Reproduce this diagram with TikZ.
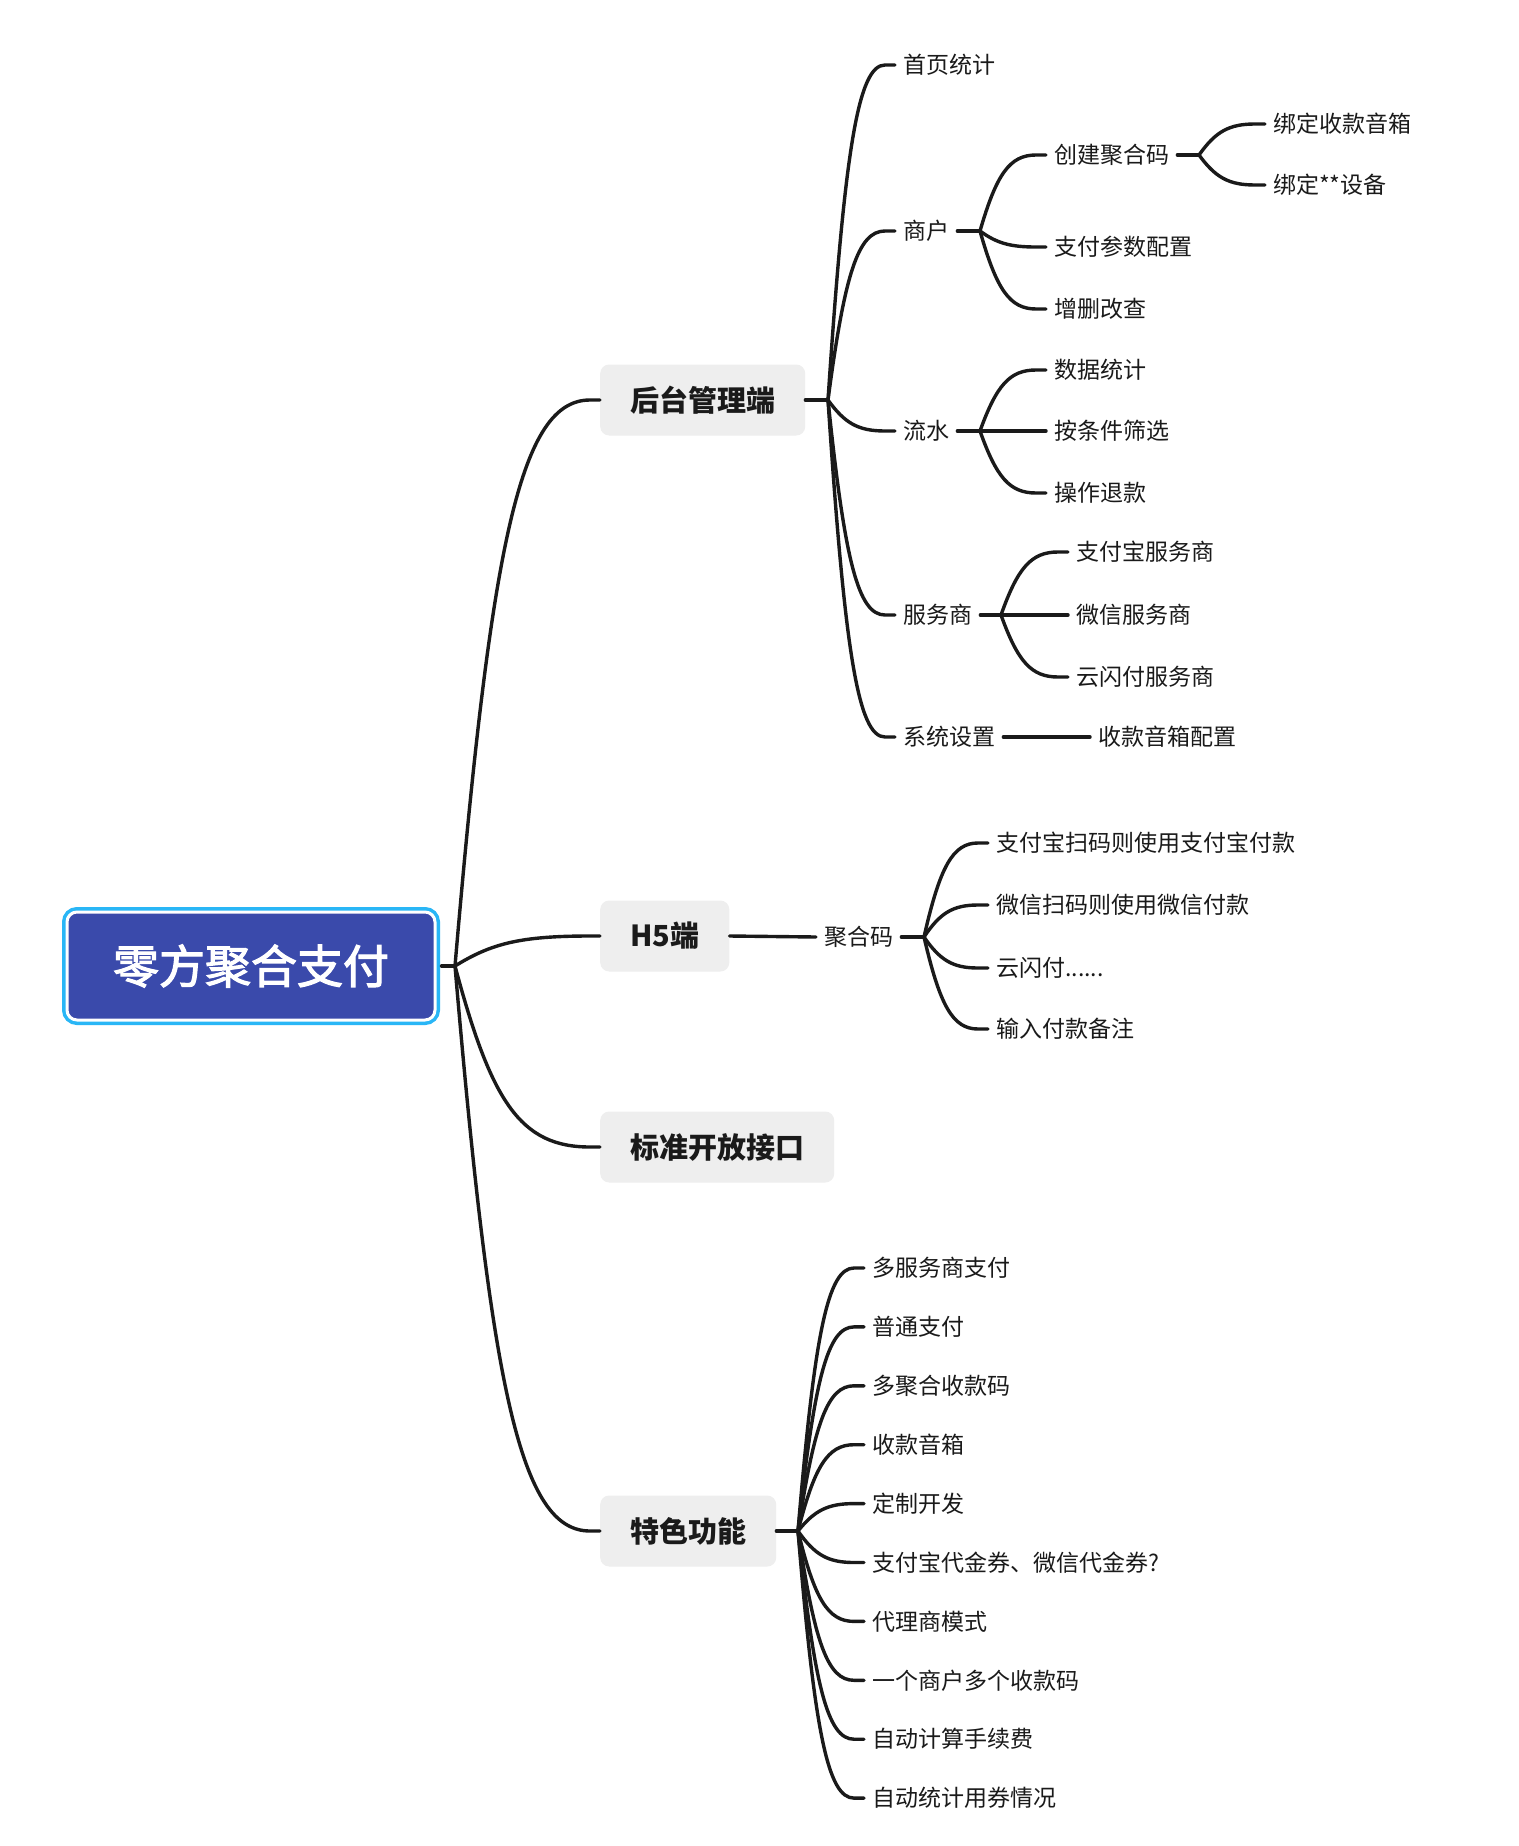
\documentclass[tikz,border=0pt]{standalone}
\usepackage{fontspec}
\newfontfamily\cjk{Noto Sans CJK SC}
\newfontfamily\cjkroot[FakeBold=2.5]{Noto Sans CJK SC}
\usetikzlibrary{calc}
\definecolor{rootblue}{HTML}{3A4AAB}
\definecolor{rootcyan}{HTML}{29B6F6}
\definecolor{boxgray}{HTML}{EEEEEE}
\definecolor{inkline}{HTML}{1A1A1A}
\newcommand\branch[2]{\draw[link] let \p1=(#1), \p2=(#2.west) in (\p1) .. controls ({\x1+0.25*(\x2-\x1)},{\y1+0.75*(\y2-\y1)}) and ({\x1+0.45*(\x2-\x1)},\y2) .. ({\x2-10pt},\y2) -- (\p2);}
\begin{document}
\begin{tikzpicture}[x=1pt,y=-1pt,
  link/.style={draw=inkline,line width=3.4,line cap=round},
  rootbox/.style={fill=rootblue,draw=white,line width=3,rounded corners=10,minimum width=368,minimum height=108,text=white,font=\cjkroot\fontsize{46}{46}\selectfont,preaction={draw=rootcyan,line width=10}},
  topic/.style={anchor=west,fill=boxgray,rounded corners=9,minimum height=71,inner xsep=30,text=inkline,font=\cjk\bfseries\fontsize{29}{29}\selectfont},
  leaf/.style={anchor=west,inner xsep=8,inner ysep=2,text=inkline,font=\cjk\fontsize{23}{23}\selectfont}]
\useasboundingbox[fill=white] (0,0) rectangle (1518,1846);

% root
\node[rootbox] (root) at (251,966) {零方聚合支付};
\coordinate (rootfan) at (455,966);
\draw[link] ([xshift=5]root.east) -- (rootfan);

\node[topic] (admin) at (600,400) {后台管理端};
\node[topic] (hfive) at (600,936) {H5端};
\node[topic] (api) at (600,1147) {标准开放接口};
\node[topic] (feature) at (600,1531) {特色功能};
\foreach \t in {admin,hfive,api,feature} \branch{rootfan}{\t};

% 后台管理端
\coordinate (adminfan) at (828,400);
\draw[link] (admin.east) -- (adminfan);
\node[leaf] (home) at (895,65) {首页统计};
\node[leaf] (merchant) at (895,231) {商户};
\node[leaf] (flow) at (895,431) {流水};
\node[leaf] (provider) at (895,615) {服务商};
\node[leaf] (settings) at (895,737) {系统设置};
\foreach \t in {home,merchant,flow,provider,settings} \branch{adminfan}{\t};

\coordinate (merchantfan) at (980,231);
\draw[link] (merchant.east) -- (merchantfan);
\node[leaf] (createcode) at (1046,155) {创建聚合码};
\node[leaf] (payparam) at (1046,247) {支付参数配置};
\node[leaf] (crud) at (1046,309) {增删改查};
\foreach \t in {createcode,payparam,crud} \branch{merchantfan}{\t};

\coordinate (createfan) at (1199,155);
\draw[link] (createcode.east) -- (createfan);
\node[leaf] (bindbox) at (1265,124) {绑定收款音箱};
\node[leaf] (binddev) at (1265,185) {绑定**设备};
\foreach \t in {bindbox,binddev} \branch{createfan}{\t};

\coordinate (flowfan) at (980,431);
\draw[link] (flow.east) -- (flowfan);
\node[leaf] (stats) at (1046,370) {数据统计};
\node[leaf] (filter) at (1046,431) {按条件筛选};
\node[leaf] (refund) at (1046,493) {操作退款};
\foreach \t in {stats,filter,refund} \branch{flowfan}{\t};

\coordinate (providerfan) at (1001,615);
\draw[link] (provider.east) -- (providerfan);
\node[leaf] (alipay) at (1068,552) {支付宝服务商};
\node[leaf] (wechat) at (1068,615) {微信服务商};
\node[leaf] (unionpay) at (1068,677) {云闪付服务商};
\foreach \t in {alipay,wechat,unionpay} \branch{providerfan}{\t};

\node[leaf] (speaker) at (1090,737) {收款音箱配置};
\draw[link] (settings.east) -- (speaker.west);

% H5端
\node[leaf] (aggcode) at (816,937) {聚合码};
\draw[link] (hfive.east) -- (aggcode.west);
\coordinate (aggfan) at (924,937);
\draw[link] (aggcode.east) -- (aggfan);
\node[leaf] (scanali) at (988,843) {支付宝扫码则使用支付宝付款};
\node[leaf] (scanwx) at (988,905) {微信扫码则使用微信付款};
\node[leaf] (scanyun) at (988,968) {云闪付......};
\node[leaf] (remark) at (988,1029) {输入付款备注};
\foreach \t in {scanali,scanwx,scanyun,remark} \branch{aggfan}{\t};

% 特色功能
\coordinate (featurefan) at (798,1531);
\draw[link] (feature.east) -- (featurefan);
\foreach \t [count=\i from 0] in {多服务商支付,普通支付,多聚合收款码,收款音箱,定制开发,支付宝代金券、微信代金券?,代理商模式,一个商户多个收款码,自动计算手续费,自动统计用券情况}{
  \node[leaf] (feat\i) at (864,1268+58.9*\i) {\t};
  \branch{featurefan}{feat\i};
}
\end{tikzpicture}
\end{document}
